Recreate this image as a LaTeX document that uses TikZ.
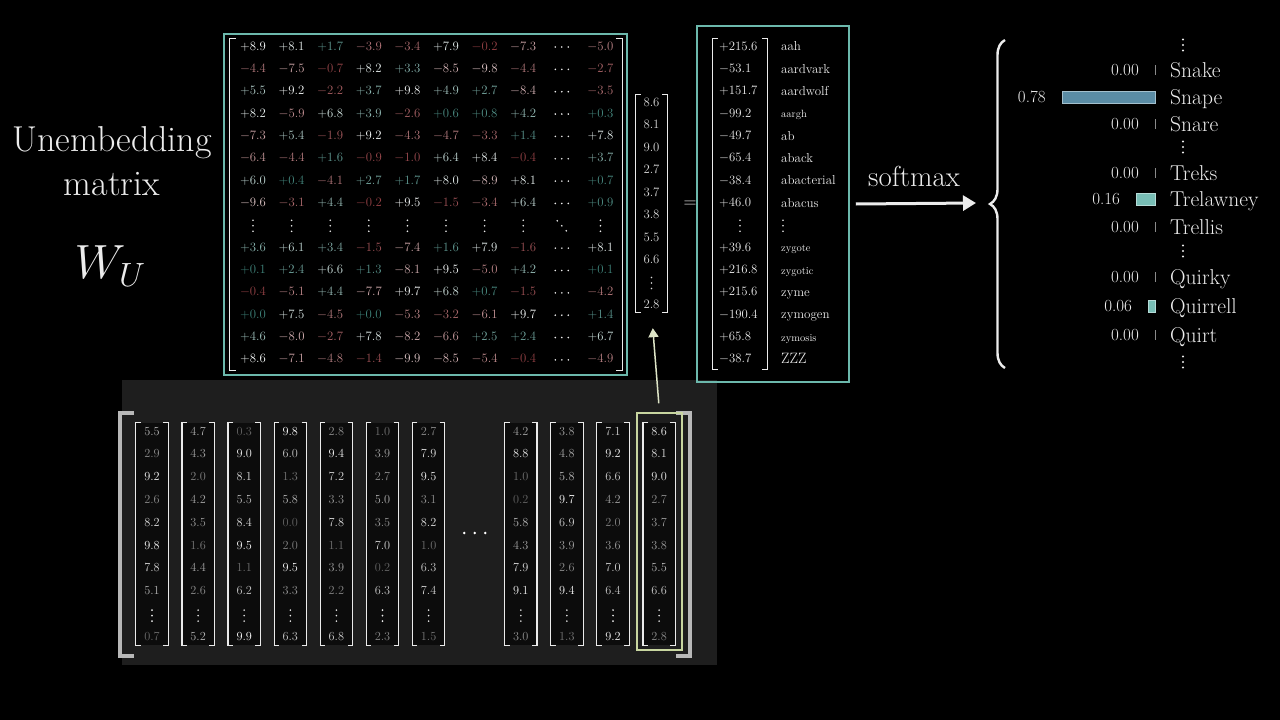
\documentclass[tikz,border=0pt]{standalone}
\usepackage{fix-cm}
\usepackage{amsmath}
\usepackage{fontspec}
\usetikzlibrary{arrows.meta,decorations.pathreplacing}
\definecolor{tealframe}{HTML}{6CB8AC}
\definecolor{posbase}{RGB}{45,120,110}
\definecolor{negbase}{RGB}{135,40,45}
\definecolor{txt}{HTML}{ECECEC}
\definecolor{vtxt}{HTML}{D8D8D8}
\definecolor{panel}{HTML}{1E1E1E}
\definecolor{vecfill}{HTML}{0C0C0C}
\definecolor{hlc}{HTML}{C8D6A0}
\definecolor{arrc}{HTML}{DDE4C6}
\definecolor{snapebar}{RGB}{90,140,165}
\definecolor{tealbar}{RGB}{120,190,182}
\definecolor{tickc}{HTML}{8A8A8A}
\definecolor{outerbr}{HTML}{B8B8B8}
\newcommand\mybrk[3]{%
  \draw[#3] ([xshift=#2]#1.north west) -- (#1.north west) -- (#1.south west) -- ([xshift=#2]#1.south west);
  \draw[#3] ([xshift=-#2]#1.north east) -- (#1.north east) -- (#1.south east) -- ([xshift=-#2]#1.south east);}
% dot groups drawn as shapes: x, y, radius, colour
\newcommand\vdts[4]{\fill[#4] ({#1},{#2-5.5}) circle (#3) ({#1},{#2}) circle (#3) ({#1},{#2+5.5}) circle (#3);}
\newcommand\hdts[5]{\fill[#4] ({#1-#5},{#2}) circle (#3) ({#1},{#2}) circle (#3) ({#1+#5},{#2}) circle (#3);}
\newcommand\ddts[4]{\fill[#4] ({#1-4.5},{#2-5}) circle (#3) ({#1},{#2}) circle (#3) ({#1+4.5},{#2+5}) circle (#3);}
\begin{document}
\begin{tikzpicture}[x=1pt,y=-1pt,
  brk/.style={draw=white!92!black, line width=1.2pt, line join=miter},
  outer/.style={draw=outerbr, line width=4pt, line join=miter},
  box/.style={rectangle, inner sep=0pt, draw=none},
  cell/.style={inner sep=0pt, text height=8.5pt, text depth=2.5pt, font=\fontsize{12.8}{14}\selectfont},
  bcell/.style={inner sep=0pt, text height=8pt, text depth=2pt, font=\fontsize{12.3}{13}\selectfont},
  lbl/.style={text=txt, font=\fontsize{36}{40}\selectfont, inner sep=0pt},
  word/.style={text=txt, inner sep=0pt, anchor=west, text height=8.5pt, text depth=1pt},
  rword/.style={text=txt, inner sep=0pt, anchor=west, font=\fontsize{21.5}{24}\selectfont, text height=14.5pt, text depth=0pt},
  rval/.style={text=txt, inner sep=0pt, anchor=east, font=\fontsize{17}{20}\selectfont, text height=11pt, text depth=0pt},
  bar/.style={anchor=east, inner sep=0pt, minimum height=12pt, line width=0.6pt},
  frame/.style={draw=tealframe, line width=1.5pt, inner sep=0pt}
]
\fill[black] (0,0) rectangle (1280,720);
\useasboundingbox (0,0) rectangle (1280,720);

% ---------- left labels
\node[lbl] (t1) at (112,143) {Unembedding};
\node[lbl] (t2) at (112,184) {matrix};
\node[text=txt, inner sep=0pt, font=\fontsize{48}{48}\selectfont] (wu) at (110,266) {$W_U$};

% ---------- bottom panel
\node[box, fill=panel, minimum width=595pt, minimum height=285pt] (panel) at (419.5,522.5) {};
\node[box, minimum width=570pt, minimum height=243pt] (OB) at (405,534.5) {};
\mybrk{OB}{14pt}{outer}
\foreach \col [count=\k] in {
  {5.5,2.9,9.2,2.6,8.2,9.8,7.8,5.1,0.7},
  {4.7,4.3,2.0,4.2,3.5,1.6,4.4,2.6,5.2},
  {0.3,9.0,8.1,5.5,8.4,9.5,1.1,6.2,9.9},
  {9.8,6.0,1.3,5.8,0.0,2.0,9.5,3.3,6.3},
  {2.8,9.4,7.2,3.3,7.8,1.1,3.9,2.2,6.8},
  {1.0,3.9,2.7,5.0,3.5,7.0,0.2,6.3,2.3},
  {2.7,7.9,9.5,3.1,8.2,1.0,6.3,7.4,1.5},
  {4.2,8.8,1.0,0.2,5.8,4.3,7.9,9.1,3.0},
  {3.8,4.8,5.8,9.7,6.9,3.9,2.6,9.4,1.3},
  {7.1,9.2,6.6,4.2,2.0,3.6,7.0,6.4,9.2},
  {8.6,8.1,9.0,2.7,3.7,3.8,5.5,6.6,2.8}}{
  \pgfmathsetmacro\cx{152+46.1*(\k<8 ? \k-1 : \k)}
  \node[box, fill=vecfill, minimum width=32pt, minimum height=222pt] (b\k) at (\cx,534) {};
  \mybrk{b\k}{5pt}{brk}
  \foreach \v [count=\q] in \col {
    \pgfmathtruncatemacro\rr{\q<9 ? \q-1 : 9}
    \pgfmathtruncatemacro\pct{38+6.2*\v}
    \colorlet{cc}{white!\pct!black}
    \node[bcell, text=cc] (b\k-\q) at (\cx,{432+22.8*\rr}) {\v};
  }
  \vdts{\cx}{615.6}{0.9pt}{txt}
}
\hdts{474.7}{533}{1.4pt}{white}{10.5}
\node[draw=hlc, line width=1.5pt, inner sep=0pt, minimum width=45pt, minimum height=237pt] (hl) at (659.5,531.5) {};

% ---------- top matrix
\node[frame, minimum width=403pt, minimum height=341pt] (F) at (425.5,204.5) {};
\node[box, minimum width=392pt, minimum height=331pt] (M) at (426,204.5) {};
\mybrk{M}{6pt}{brk}
\foreach \row [count=\r] in {
  {8.9,8.1,1.7,-3.9,-3.4,7.9,-0.2,-7.3,-5.0},
  {-4.4,-7.5,-0.7,8.2,3.3,-8.5,-9.8,-4.4,-2.7},
  {5.5,9.2,-2.2,3.7,9.8,4.9,2.7,-8.4,-3.5},
  {8.2,-5.9,6.8,3.9,-2.6,0.6,0.8,4.2,0.3},
  {-7.3,5.4,-1.9,9.2,-4.3,-4.7,-3.3,1.4,7.8},
  {-6.4,-4.4,1.6,-0.9,-1.0,6.4,8.4,-0.4,3.7},
  {6.0,0.4,-4.1,2.7,1.7,8.0,-8.9,8.1,0.7},
  {-9.6,-3.1,4.4,-0.2,9.5,-1.5,-3.4,6.4,0.9},
  {3.6,6.1,3.4,-1.5,-7.4,1.6,7.9,-1.6,8.1},
  {0.1,2.4,6.6,1.3,-8.1,9.5,-5.0,4.2,0.1},
  {-0.4,-5.1,4.4,-7.7,9.7,6.8,0.7,-1.5,-4.2},
  {0.0,7.5,-4.5,0.0,-5.3,-3.2,-6.1,9.7,1.4},
  {4.6,-8.0,-2.7,7.8,-8.2,-6.6,2.5,2.4,6.7},
  {8.6,-7.1,-4.8,-1.4,-9.9,-8.5,-5.4,-0.4,-4.9}}{
  \pgfmathtruncatemacro\jj{\r<9 ? \r-1 : \r}
  \foreach \v [count=\c] in \row {
    \pgfmathtruncatemacro\ii{\c<9 ? \c-1 : 9}
    \ifdim\v pt<0pt
      \pgfmathtruncatemacro\pct{10+6.5*abs(\v)}
      \colorlet{cc}{white!\pct!negbase}
    \else
      \pgfmathtruncatemacro\pct{min(95,10*\v+8)}
      \colorlet{cc}{white!\pct!posbase}
    \fi
    \node[cell, text=cc] (m-\r-\c) at ({253+38.6*\ii},{47+22.35*\jj}) {$\ifdim\v pt<0pt\else+\fi\v$};
  }
  \hdts{561.8}{{47+22.35*\jj}}{0.9pt}{txt}{6.5}
}
\foreach \i in {0,...,7,9} {
  \vdts{253+38.6*\i}{225.8}{0.9pt}{txt}
}
\ddts{561.8}{225.8}{0.9pt}{txt}

% ---------- vector
\node[box, minimum width=31pt, minimum height=217pt] (vec) at (651.5,203.5) {};
\mybrk{vec}{5pt}{brk}
\foreach \v [count=\k] in {8.6,8.1,9.0,2.7,3.7,3.8,5.5,6.6} {
  \node[cell, text=vtxt] (v\k) at (651.5,{103+22.5*(\k-1)}) {$\v$};
}
\vdts{651.5}{283}{0.9pt}{vtxt}
\node[cell, text=vtxt] (v10) at (651.5,305.5) {$2.8$};
\node[text=txt, inner sep=0pt, font=\fontsize{18}{20}\selectfont] (eq) at (690,204) {$=$};

% ---------- arrow from highlighted column
\draw[arrc, line width=1.5pt, -{Triangle[length=9pt,width=10pt]}, shorten <=9pt, shorten >=16pt] (hl.north) -- (vec.south);

% ---------- result vector
\node[frame, minimum width=152pt, minimum height=356pt] (res) at (773,204) {};
\node[box, minimum width=54pt, minimum height=330pt] (R) at (740,204) {};
\mybrk{R}{5pt}{brk}
\foreach \v/\w/\fz [count=\k] in {
  +215.6/aah/13, -53.1/aardvark/13, +151.7/aardwolf/13, -99.2/aargh/10.5,
  -49.7/ab/13, -65.4/aback/13, -38.4/abacterial/13, +46.0/abacus/13,
  +39.6/zygote/10.5, +216.8/zygotic/10.5, +215.6/zyme/13, -190.4/zymogen/13,
  +65.8/zymosis/10.5, -38.7/ZZZ/15} {
  \pgfmathtruncatemacro\jj{\k<9 ? \k-1 : \k}
  \node[cell, text=txt, anchor=west] (r\k) at (719,{47+22.35*\jj}) {$\v$};
  \node[word, font=\fontsize{\fz}{\fz}\selectfont] (rw\k) at (781,{47+22.35*\jj}) {\w};
}
\vdts{740}{225.8}{0.9pt}{txt}
\vdts{783}{225.8}{0.9pt}{txt}

% ---------- softmax arrow
\node[text=txt, inner sep=0pt, font=\fontsize{29}{31}\selectfont] (sm) at (914,176) {softmax};
\coordinate (brt) at (976,203);
\draw[txt, line width=3pt, -{Triangle[length=13pt,width=15pt]}] ([xshift=6pt]res.east) -- (brt);

% ---------- brace
\draw[txt, line width=2.4pt, decorate, decoration={brace, amplitude=15pt}] (1005,368) -- (1005,40);

% ---------- distribution
\foreach \yy in {45,147,251,362} {
  \vdts{1183}{\yy}{1.1pt}{txt}
}
\foreach \w/\p/\yy [count=\k] in {Snake/0.00/70, Snape/0.78/97, Snare/0.00/124, Treks/0.00/173,
  Trelawney/0.16/199, Trellis/0.00/227, Quirky/0.00/277, Quirrell/0.06/306, Quirt/0.00/335} {
  \node[rword] (w\k) at (1170,\yy) {\w};
  \ifdim\p pt>0pt
    \pgfmathsetmacro\bw{120*\p}
    \ifdim\p pt>0.5pt \def\bc{snapebar}\else\def\bc{tealbar}\fi
    \node[bar, fill=\bc, draw=\bc!55!white, minimum width=\bw pt] (bar\k) at (1156,\yy) {};
    \node[rval] (p\k) at ([xshift=-16pt]bar\k.west) {\p};
  \else
    \draw[tickc, line width=1pt] (1155,{\yy-5}) -- (1155,{\yy+5});
    \node[rval] (p\k) at (1139,\yy) {\p};
  \fi
}
\end{tikzpicture}
\end{document}
